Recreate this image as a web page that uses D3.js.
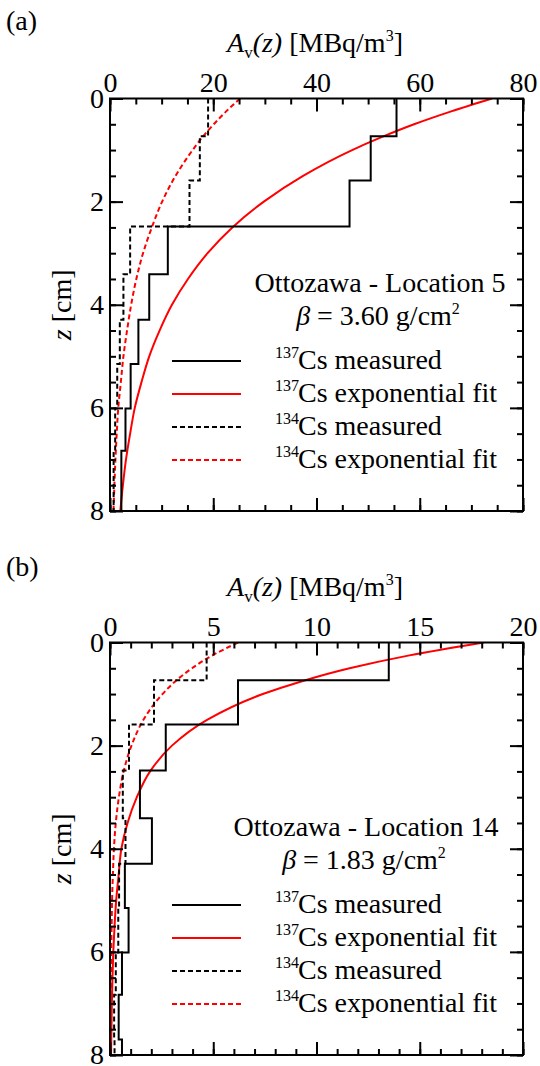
<!DOCTYPE html>
<html>
<head>
<meta charset="utf-8">
<script src="https://cdn.jsdelivr.net/npm/d3@7"></script>
<style>
  body { margin: 0; background: #fff; }
  svg text { font-family: "Liberation Serif", "Times New Roman", serif; fill: #000; }
</style>
</head>
<body>
<svg id="chart" width="540" height="1066"></svg>
<script>
// layer boundaries (cm) shared by both profiles
var depthEdges = [0, 0.73, 1.59, 2.48, 3.41, 4.29, 5.15, 6.01, 6.83, 7.7, 8.0];

// panel (a) Ottozawa - Location 5
var cs137A = [55.5, 50.5, 46.4, 11.2, 7.6, 5.5, 4.0, 3.0, 2.2, 2.2];
var cs134A = [19.0, 17.4, 15.4, 3.9, 2.6, 1.9, 1.4, 1.0, 0.7, 0.7];

// panel (b) Ottozawa - Location 14
var cs137B = [13.5, 6.2, 2.7, 1.45, 2.03, 0.72, 0.9, 0.58, 0.42, 0.58];
var cs134B = [4.68, 2.13, 0.92, 0.62, 0.75, 0.44, 0.4, 0.28, 0.2, 0.22];

// exponential fits
var fitDepth = [0, 0.25, 0.5, 0.75, 1, 1.5, 2, 2.5, 3, 3.5, 4, 4.5, 5, 5.5, 6, 6.5, 7, 7.5, 8];
var fit137A = [74, 66.1, 58.9, 52.6, 46.9, 37.4, 29.8, 23.7, 18.9, 15.1, 12.0, 9.6, 7.6, 6.1, 4.8, 3.9, 3.1, 2.5, 2.0];
var fit134A = [25.2, 22.5, 20.1, 17.9, 16.0, 12.7, 10.1, 8.1, 6.4, 5.1, 4.1, 3.3, 2.6, 2.1, 1.6, 1.3, 1.05, 0.85, 0.68];
var fit137B = [18.1, 14.5, 11.6, 9.3, 7.4, 4.7, 3.0, 1.94, 1.3, 0.85, 0.55, 0.42, 0.3, 0.22, 0.16, 0.12, 0.09, 0.07, 0.05];
var fit134B = [6.2, 4.96, 3.97, 3.17, 2.54, 1.62, 1.04, 0.66, 0.43, 0.28, 0.19, 0.14, 0.1, 0.08, 0.06, 0.05, 0.04, 0.03, 0.02];

var depthTicks = [0, 2, 4, 6, 8];
var legendLabels = [
  { iso: '137', text: 'Cs measured', color: '#000', dash: null },
  { iso: '137', text: 'Cs exponential fit', color: '#ff0000', dash: null },
  { iso: '134', text: 'Cs measured', color: '#000', dash: '5,3' },
  { iso: '134', text: 'Cs exponential fit', color: '#ff0000', dash: '5,3' }
];

var LEFT = 110;
var SIZE_W = 413;
var SIZE_H = 412.5;
var FONT = 28;

var svg = d3.select('#chart');

function stepPoints (values) {
  var pts = [];
  values.forEach(function (v, i) {
    pts.push([v, depthEdges[i]]);
    pts.push([v, depthEdges[i + 1]]);
  });
  return pts;
}

function drawPanel (p) {
  var top = p.top;
  var x = d3.scaleLinear().domain([0, p.xMax]).range([LEFT, LEFT + SIZE_W]);
  var y = d3.scaleLinear().domain([0, 8]).range([top, top + SIZE_H]);

  var g = svg.append('g');

  // clip for data
  var clipId = 'clip-' + p.id;
  svg.append('defs').append('clipPath').attr('id', clipId)
    .append('rect')
    .attr('x', LEFT).attr('y', top)
    .attr('width', SIZE_W).attr('height', SIZE_H);

  var data = g.append('g').attr('clip-path', 'url(#' + clipId + ')');

  var fitLine = d3.line()
    .x(function (d) { return x(d[0]); })
    .y(function (d) { return y(d[1]); })
    .curve(d3.curveMonotoneY);

  var stepLine = d3.line()
    .x(function (d) { return x(d[0]); })
    .y(function (d) { return y(d[1]); });

  data.append('path')
    .attr('d', fitLine(p.fit137.map(function (v, i) { return [v, fitDepth[i]]; })))
    .attr('fill', 'none').attr('stroke', '#ff0000').attr('stroke-width', 2);
  data.append('path')
    .attr('d', fitLine(p.fit134.map(function (v, i) { return [v, fitDepth[i]]; })))
    .attr('fill', 'none').attr('stroke', '#ff0000').attr('stroke-width', 2)
    .attr('stroke-dasharray', '5,3');
  data.append('path')
    .attr('d', stepLine(stepPoints(p.cs134)))
    .attr('fill', 'none').attr('stroke', '#000').attr('stroke-width', 2)
    .attr('stroke-dasharray', '5,3');
  data.append('path')
    .attr('d', stepLine(stepPoints(p.cs137)))
    .attr('fill', 'none').attr('stroke', '#000').attr('stroke-width', 2);

  // axes, ticks inside on all four sides
  var minorX = d3.range(0, p.xMax + 0.001, p.xMinor);
  var majorX = d3.range(0, p.xMax + 0.001, p.xMajor);
  var minorY = d3.range(0, 8.001, 0.5);

  function styleAxis (sel) {
    sel.select('.domain').remove();
    sel.selectAll('line').attr('stroke', '#000').attr('stroke-width', 2);
    sel.selectAll('text').attr('font-size', FONT).attr('font-family', '"Liberation Serif", serif');
  }

  g.append('g').attr('transform', 'translate(0,' + top + ')')
    .call(d3.axisTop(x).tickValues(minorX).tickSize(-6).tickFormat(''))
    .call(styleAxis);
  g.append('g').attr('transform', 'translate(0,' + top + ')')
    .call(d3.axisTop(x).tickValues(majorX).tickSize(-13).tickPadding(7).tickFormat(d3.format('d')))
    .call(styleAxis);
  g.append('g').attr('transform', 'translate(0,' + (top + SIZE_H) + ')')
    .call(d3.axisBottom(x).tickValues(minorX).tickSize(-6).tickFormat(''))
    .call(styleAxis);
  g.append('g').attr('transform', 'translate(0,' + (top + SIZE_H) + ')')
    .call(d3.axisBottom(x).tickValues(majorX).tickSize(-13).tickFormat(''))
    .call(styleAxis);

  g.append('g').attr('transform', 'translate(' + LEFT + ',0)')
    .call(d3.axisLeft(y).tickValues(minorY).tickSize(-6).tickFormat(''))
    .call(styleAxis);
  g.append('g').attr('transform', 'translate(' + LEFT + ',0)')
    .call(d3.axisLeft(y).tickValues(depthTicks).tickSize(-13).tickPadding(6).tickFormat(d3.format('d')))
    .call(styleAxis);
  g.append('g').attr('transform', 'translate(' + (LEFT + SIZE_W) + ',0)')
    .call(d3.axisRight(y).tickValues(minorY).tickSize(-6).tickFormat(''))
    .call(styleAxis);
  g.append('g').attr('transform', 'translate(' + (LEFT + SIZE_W) + ',0)')
    .call(d3.axisRight(y).tickValues(depthTicks).tickSize(-13).tickFormat(''))
    .call(styleAxis);

  g.append('rect')
    .attr('x', LEFT).attr('y', top)
    .attr('width', SIZE_W).attr('height', SIZE_H)
    .attr('fill', 'none').attr('stroke', '#000').attr('stroke-width', 2);

  // panel letter
  g.append('text').attr('x', 6).attr('y', p.letterY)
    .attr('font-size', FONT).text(p.letter);

  // x title
  var t = g.append('text').attr('x', 315).attr('y', top - 47)
    .attr('text-anchor', 'middle').attr('font-size', FONT);
  t.append('tspan').attr('font-style', 'italic').text('A');
  t.append('tspan').attr('font-size', 17).attr('dy', 6).text('v');
  t.append('tspan').attr('font-style', 'italic').attr('dy', -6).text('(z)');
  t.append('tspan').text(' [MBq/m');
  t.append('tspan').attr('font-size', 16).attr('dy', -11).text('3');
  t.append('tspan').attr('dy', 11).text(']');

  // y title
  var yt = g.append('text')
    .attr('transform', 'translate(71,' + (top + SIZE_H / 2) + ') rotate(-90)')
    .attr('text-anchor', 'middle').attr('font-size', FONT);
  yt.append('tspan').attr('font-style', 'italic').text('z');
  yt.append('tspan').text(' [cm]');

  // annotation
  g.append('text').attr('x', p.noteX).attr('y', top + 193)
    .attr('text-anchor', 'middle').attr('font-size', FONT)
    .text(p.site);
  var b = g.append('text').attr('x', p.noteX - 2).attr('y', top + 226)
    .attr('text-anchor', 'middle').attr('font-size', FONT);
  b.append('tspan').attr('font-style', 'italic').text('β');
  b.append('tspan').text(' = ' + p.beta + ' g/cm');
  b.append('tspan').attr('font-size', 16).attr('dy', -11).text('2');

  // legend
  legendLabels.forEach(function (d, i) {
    var ly = top + 262.5 + i * 33;
    g.append('line')
      .attr('x1', 172).attr('x2', 241)
      .attr('y1', ly).attr('y2', ly)
      .attr('stroke', d.color).attr('stroke-width', 2)
      .attr('stroke-dasharray', d.dash);
    g.append('text').attr('x', 275).attr('y', ly - 3)
      .attr('font-size', 16).text(d.iso);
    g.append('text').attr('x', 298).attr('y', ly + 8)
      .attr('font-size', FONT).text(d.text);
  });
}

drawPanel({
  id: 'a', letter: '(a)', letterY: 30, top: 98.5, xMax: 80, xMajor: 20, xMinor: 5,
  cs137: cs137A, cs134: cs134A, fit137: fit137A, fit134: fit134A,
  site: 'Ottozawa - Location 5', beta: '3.60', noteX: 380
});

drawPanel({
  id: 'b', letter: '(b)', letterY: 576, top: 642.5, xMax: 20, xMajor: 5, xMinor: 1,
  cs137: cs137B, cs134: cs134B, fit137: fit137B, fit134: fit134B,
  site: 'Ottozawa - Location 14', beta: '1.83', noteX: 366
});
</script>
</body>
</html>
